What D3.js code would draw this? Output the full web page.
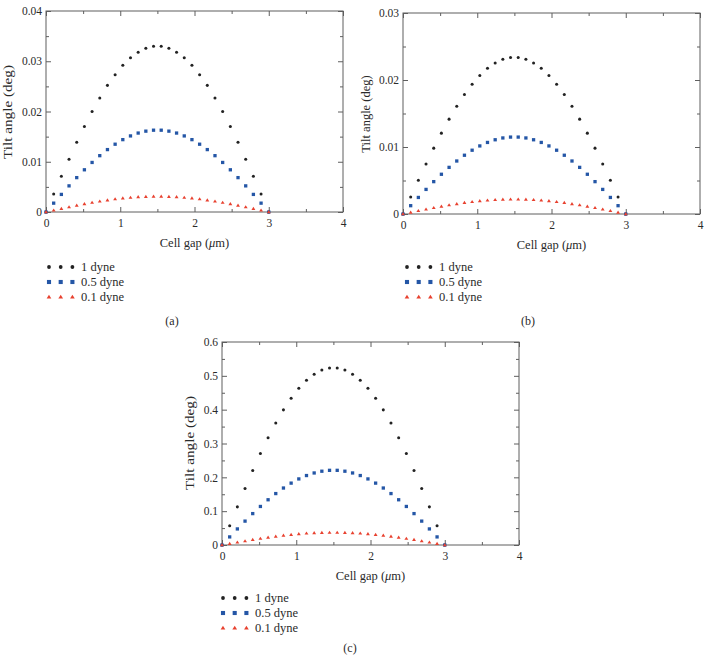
<!DOCTYPE html>
<html><head><meta charset="utf-8">
<script src="https://cdn.jsdelivr.net/npm/d3@7"></script>
<style>
body{margin:0;background:#fff}
svg{display:block}
text{font-family:"Liberation Serif","DejaVu Serif",serif;fill:#2a2a2a}
</style>
</head><body>
<svg id="chart" width="707" height="655"></svg>
<script>
// ---------- data ----------
const cellGap = [0, 0.1034, 0.2069, 0.3103, 0.4138, 0.5172, 0.6207, 0.7241, 0.8276, 0.9310,
  1.0345, 1.1379, 1.2414, 1.3448, 1.4483, 1.5517, 1.6552, 1.7586, 1.8621, 1.9655,
  2.0690, 2.1724, 2.2759, 2.3793, 2.4828, 2.5862, 2.6897, 2.7931, 2.8966, 3.0];

const seriesNames = ["1 dyne", "0.5 dyne", "0.1 dyne"];

// panel (a)
const tiltA1 = [0, 0.0036, 0.0071, 0.0105, 0.0139, 0.0170, 0.0200, 0.0227, 0.0252, 0.0273, 0.0292, 0.0307, 0.0318, 0.0326, 0.0330,
  0.0330, 0.0326, 0.0318, 0.0307, 0.0292, 0.0273, 0.0252, 0.0227, 0.0200, 0.0170, 0.0139, 0.0105, 0.0071, 0.0036, 0];
const tiltA05 = [0, 0.00176, 0.00350, 0.00520, 0.00684, 0.00840, 0.00986, 0.01121, 0.01242, 0.01349, 0.01440, 0.01514, 0.01571, 0.01609, 0.01628,
  0.01628, 0.01609, 0.01571, 0.01514, 0.01440, 0.01349, 0.01242, 0.01121, 0.00986, 0.00840, 0.00684, 0.00520, 0.00350, 0.00176, 0];
const tiltA01 = [0, 0.00034, 0.00067, 0.00099, 0.00130, 0.00160, 0.00188, 0.00213, 0.00236, 0.00257, 0.00274, 0.00288, 0.00299, 0.00306, 0.00310,
  0.00310, 0.00306, 0.00299, 0.00288, 0.00274, 0.00257, 0.00236, 0.00213, 0.00188, 0.00160, 0.00130, 0.00099, 0.00067, 0.00034, 0];

// panel (b)
const tiltB1 = [0, 0.00253, 0.00503, 0.00747, 0.00983, 0.01207, 0.01416, 0.01609, 0.01784, 0.01937, 0.02067, 0.02174, 0.02255, 0.02309, 0.02336,
  0.02336, 0.02309, 0.02255, 0.02174, 0.02067, 0.01937, 0.01784, 0.01609, 0.01416, 0.01207, 0.00983, 0.00747, 0.00503, 0.00253, 0];
const tiltB05 = [0, 0.00124, 0.00247, 0.00367, 0.00483, 0.00593, 0.00696, 0.00791, 0.00877, 0.00952, 0.01016, 0.01068, 0.01108, 0.01135, 0.01148,
  0.01148, 0.01135, 0.01108, 0.01068, 0.01016, 0.00952, 0.00877, 0.00791, 0.00696, 0.00593, 0.00483, 0.00367, 0.00247, 0.00124, 0];
const tiltB01 = [0, 0.00024, 0.00047, 0.00070, 0.00092, 0.00113, 0.00133, 0.00151, 0.00168, 0.00182, 0.00194, 0.00204, 0.00212, 0.00217, 0.00220,
  0.00220, 0.00217, 0.00212, 0.00204, 0.00194, 0.00182, 0.00168, 0.00151, 0.00133, 0.00113, 0.00092, 0.00070, 0.00047, 0.00024, 0];

// panel (c)
const tiltC1 = [0, 0.0567, 0.1127, 0.1673, 0.2200, 0.2702, 0.3171, 0.3604, 0.3994, 0.4337, 0.4630, 0.4868, 0.5049, 0.5171, 0.5232,
  0.5232, 0.5171, 0.5049, 0.4868, 0.4630, 0.4337, 0.3994, 0.3604, 0.3171, 0.2702, 0.2200, 0.1673, 0.1127, 0.0567, 0];
const tiltC05 = [0, 0.0239, 0.0475, 0.0706, 0.0928, 0.1139, 0.1337, 0.1520, 0.1684, 0.1829, 0.1953, 0.2053, 0.2129, 0.2181, 0.2207,
  0.2207, 0.2181, 0.2129, 0.2053, 0.1953, 0.1829, 0.1684, 0.1520, 0.1337, 0.1139, 0.0928, 0.0706, 0.0475, 0.0239, 0];
const tiltC01 = [0, 0.0040, 0.0080, 0.0118, 0.0155, 0.0191, 0.0224, 0.0254, 0.0282, 0.0306, 0.0327, 0.0344, 0.0357, 0.0365, 0.0369,
  0.0369, 0.0365, 0.0357, 0.0344, 0.0327, 0.0306, 0.0282, 0.0254, 0.0224, 0.0191, 0.0155, 0.0118, 0.0080, 0.0040, 0];

// ticks
const xTicks = [0, 1, 2, 3, 4];
const xTickLabels = ["0", "1", "2", "3", "4"];
const xMinorTicks = [0.5, 1.5, 2.5, 3.5];
const yTicksA = [0, 0.01, 0.02, 0.03, 0.04];
const yTickLabelsA = ["0", "0.01", "0.02", "0.03", "0.04"];
const yMinorA = [0.005, 0.015, 0.025, 0.035];
const yTicksB = [0, 0.01, 0.02, 0.03];
const yTickLabelsB = ["0", "0.01", "0.02", "0.03"];
const yMinorB = [0.005, 0.015, 0.025];
const yTicksC = [0, 0.1, 0.2, 0.3, 0.4, 0.5, 0.6];
const yTickLabelsC = ["0", "0.1", "0.2", "0.3", "0.4", "0.5", "0.6"];
const yMinorC = [0.05, 0.15, 0.25, 0.35, 0.45, 0.55];

const panelLabels = ["(a)", "(b)", "(c)"];
const xTitle = ["Cell gap (", "\u03bc", "m)"];
const yTitle = "Tilt angle (deg)";

// ---------- drawing ----------
const svg = d3.select("#chart");
const colors = ["#222222", "#2456a6", "#e8412f"];
const frameColor = "#5f5f5f";
const FONT = '"Liberation Serif","DejaVu Serif",serif';

function drawMarker(sel, type, cx, cy, s) {
  if (type === 0) {
    sel.append("circle").attr("cx", cx).attr("cy", cy).attr("r", s * 0.46).attr("fill", colors[0]);
  } else if (type === 1) {
    sel.append("rect").attr("x", cx - s / 2).attr("y", cy - s / 2).attr("width", s).attr("height", s).attr("fill", colors[1]);
  } else {
    const h = s * 0.95;
    sel.append("path")
      .attr("d", `M${cx},${cy - h * 0.6}L${cx + s / 2 + 0.3},${cy + h * 0.4}L${cx - s / 2 - 0.3},${cy + h * 0.4}Z`)
      .attr("fill", colors[2]);
  }
}

function panel(cfg) {
  const g = svg.append("g");
  const x = d3.scaleLinear().domain([0, 4]).range([cfg.x0, cfg.x1]);
  const y = d3.scaleLinear().domain([0, cfg.yMax]).range([cfg.y1, cfg.y0]);

  const styleAxis = (a) => {
    a.select(".domain").remove();
    a.attr("font-family", FONT).attr("font-size", 11.5);
    a.selectAll(".tick line").attr("stroke", frameColor).attr("stroke-width", 1);
    a.selectAll("text").attr("font-family", FONT).attr("font-size", 11.5).attr("fill", "#2a2a2a");
  };

  g.append("g").attr("transform", `translate(0,${cfg.y1})`)
    .call(d3.axisBottom(x).tickValues(xTicks).tickSize(-5).tickPadding(7).tickFormat((d, i) => xTickLabels[i])).call(styleAxis);
  g.append("g").attr("transform", `translate(0,${cfg.y1})`)
    .call(d3.axisBottom(x).tickValues(xMinorTicks).tickSize(-3).tickFormat("")).call(styleAxis);
  g.append("g").attr("transform", `translate(0,${cfg.y0})`)
    .call(d3.axisTop(x).tickValues(xTicks).tickSize(-5).tickFormat("")).call(styleAxis);
  g.append("g").attr("transform", `translate(0,${cfg.y0})`)
    .call(d3.axisTop(x).tickValues(xMinorTicks).tickSize(-3).tickFormat("")).call(styleAxis);

  g.append("g").attr("transform", `translate(${cfg.x0},0)`)
    .call(d3.axisLeft(y).tickValues(cfg.yTicks).tickSize(-5).tickPadding(4).tickFormat((d, i) => cfg.yLabels[i])).call(styleAxis);
  g.append("g").attr("transform", `translate(${cfg.x0},0)`)
    .call(d3.axisLeft(y).tickValues(cfg.yMinor).tickSize(-3).tickFormat("")).call(styleAxis);
  g.append("g").attr("transform", `translate(${cfg.x1},0)`)
    .call(d3.axisRight(y).tickValues(cfg.yTicks).tickSize(-5).tickFormat("")).call(styleAxis);
  g.append("g").attr("transform", `translate(${cfg.x1},0)`)
    .call(d3.axisRight(y).tickValues(cfg.yMinor).tickSize(-3).tickFormat("")).call(styleAxis);

  g.append("rect").attr("x", cfg.x0).attr("y", cfg.y0)
    .attr("width", cfg.x1 - cfg.x0).attr("height", cfg.y1 - cfg.y0)
    .attr("fill", "none").attr("stroke", frameColor).attr("stroke-width", 1);

  const pts = g.append("g");
  cfg.series.forEach((vals, si) => {
    vals.forEach((v, i) => drawMarker(pts, si, x(cellGap[i]), y(v), 3.3));
  });

  const xt = g.append("text").attr("x", (cfg.x0 + cfg.x1) / 2).attr("y", cfg.y1 + 35)
    .attr("text-anchor", "middle").attr("font-family", FONT).attr("font-size", 12.5);
  xt.append("tspan").text(xTitle[0]);
  xt.append("tspan").attr("font-style", "italic").text(xTitle[1]);
  xt.append("tspan").text(xTitle[2]);

  const yt = g.append("text")
    .attr("transform", `translate(${cfg.yTitleX},${cfg.yTitleY}) rotate(-90)`)
    .attr("text-anchor", "middle").attr("dy", "0.35em").attr("font-family", FONT).attr("font-size", 12.5)
    .text(yTitle);
  if (cfg.yTitleLen) yt.attr("textLength", cfg.yTitleLen).attr("lengthAdjust", "spacingAndGlyphs");

  const lg = g.append("g");
  seriesNames.forEach((name, si) => {
    const ly = cfg.legY + si * 15;
    [0, 1, 2].forEach(k => drawMarker(lg, si, cfg.legX + k * 11.7, ly, 4.1));
    lg.append("text").attr("x", cfg.legX + 32).attr("y", ly).attr("dy", "0.35em")
      .attr("font-family", FONT).attr("font-size", 12.5).text(name);
  });

  g.append("text").attr("x", cfg.labX).attr("y", cfg.labY).attr("text-anchor", "middle")
    .attr("dy", "0.35em").attr("font-family", FONT).attr("font-size", 12).text(cfg.label);
}

panel({x0: 46, x1: 343, y0: 11, y1: 212, yMax: 0.04, yTicks: yTicksA, yLabels: yTickLabelsA, yMinor: yMinorA,
  series: [tiltA1, tiltA05, tiltA01], yTitleX: 8, yTitleY: 112, yTitleLen: 94,
  legX: 49, legY: 267, labX: 172, labY: 321, label: panelLabels[0]});
panel({x0: 403, x1: 700, y0: 13, y1: 214, yMax: 0.03, yTicks: yTicksB, yLabels: yTickLabelsB, yMinor: yMinorB,
  series: [tiltB1, tiltB05, tiltB01], yTitleX: 366, yTitleY: 114, yTitleLen: 0,
  legX: 407, legY: 267, labX: 528, labY: 321, label: panelLabels[1]});
panel({x0: 222, x1: 519, y0: 342, y1: 545, yMax: 0.6, yTicks: yTicksC, yLabels: yTickLabelsC, yMinor: yMinorC,
  series: [tiltC1, tiltC05, tiltC01], yTitleX: 190, yTitleY: 443, yTitleLen: 94,
  legX: 223, legY: 598, labX: 350, labY: 648, label: panelLabels[2]});
</script>
</body></html>
